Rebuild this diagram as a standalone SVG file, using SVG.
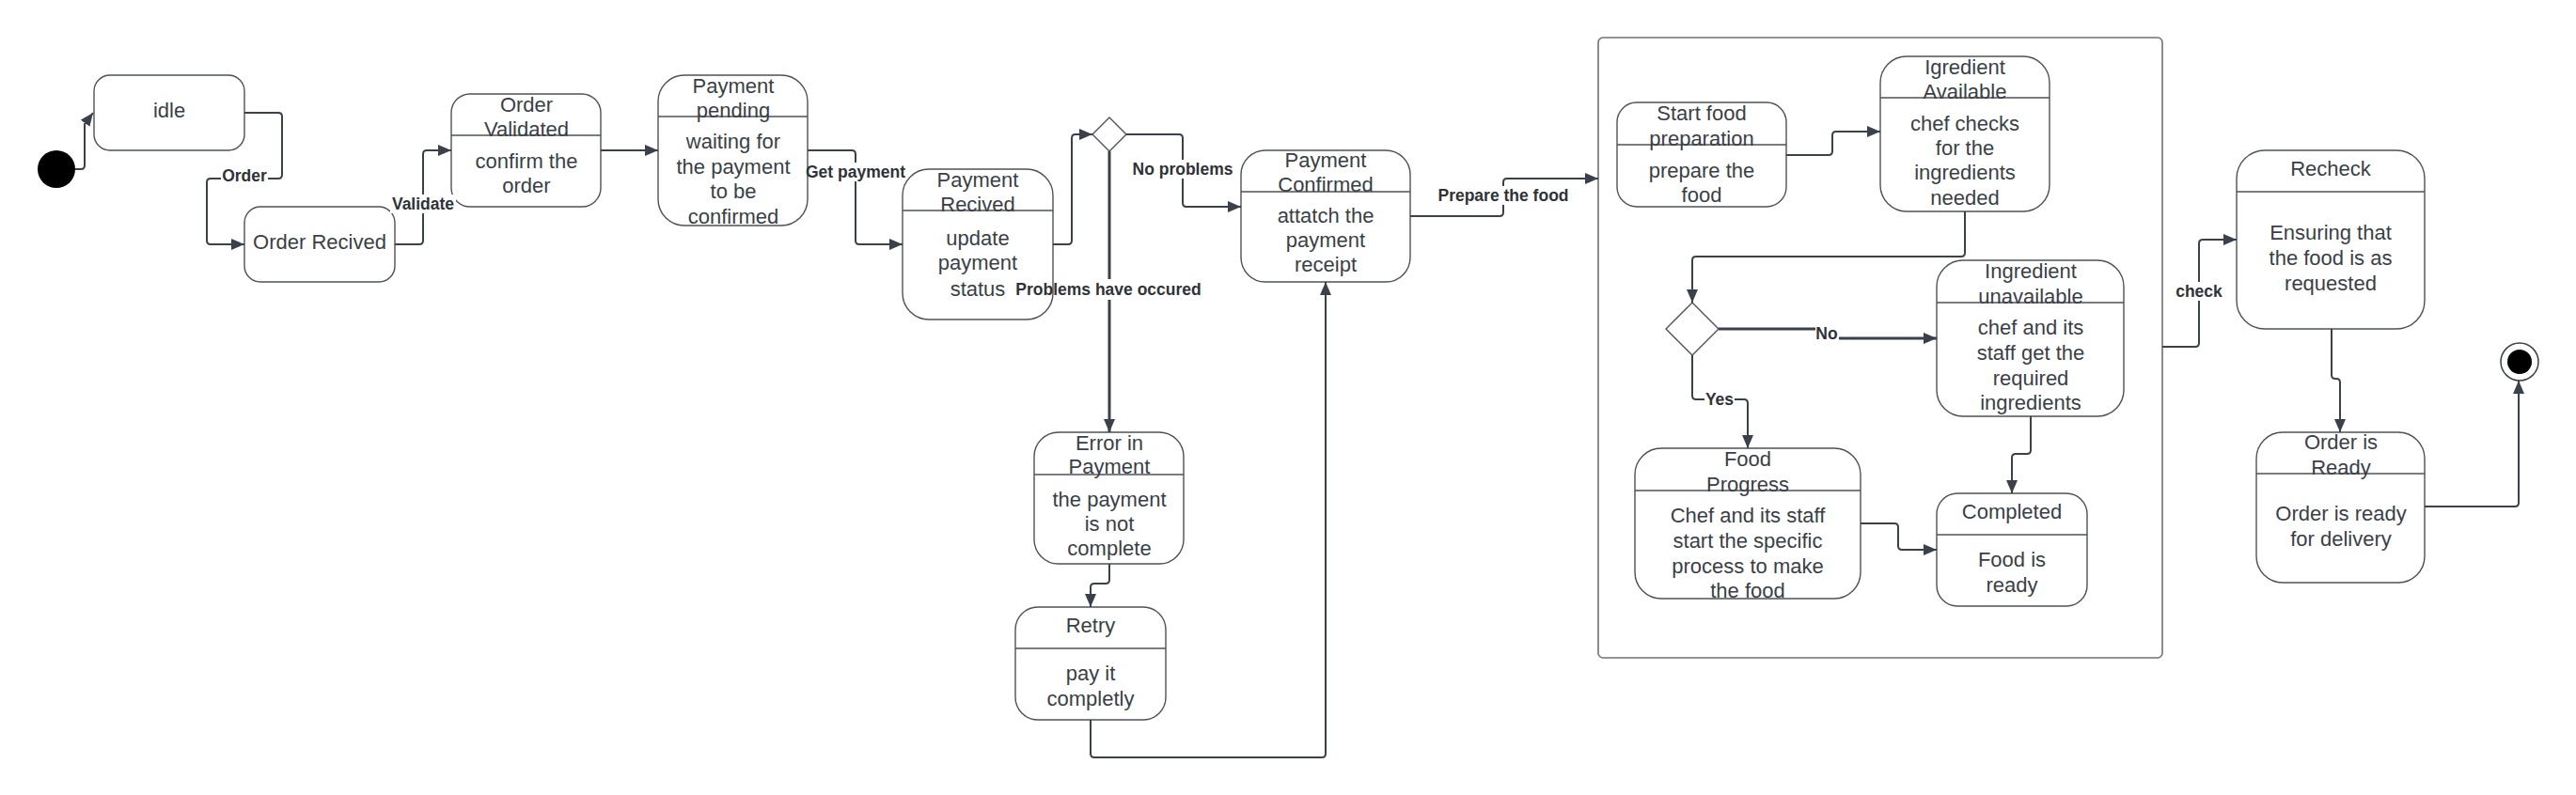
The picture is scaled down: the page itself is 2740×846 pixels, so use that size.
<svg xmlns="http://www.w3.org/2000/svg" width="2740" height="846" viewBox="0 0 2740 846">
<defs>
<marker id="arr" viewBox="0 0 14 12" refX="14" refY="6" markerWidth="14" markerHeight="12" markerUnits="userSpaceOnUse" orient="auto">
<path d="M0,0 L14,6 L0,12 z" fill="#3a414a"/>
</marker>
<style>
.box{fill:#ffffff;stroke:#4d5158;stroke-width:1.4}
.div{stroke:#4d5158;stroke-width:1.4}
.t{font-family:"Liberation Sans",Arial,sans-serif;font-size:22px;fill:#3a3f47;text-anchor:middle}
.c{fill:none;stroke:#3a414a;stroke-width:2;marker-end:url(#arr)}
.cb{fill:none;stroke:#3a414a;stroke-width:3;marker-end:url(#arr)}
.lb{fill:#ffffff}
.l{font-family:"Liberation Sans",Arial,sans-serif;font-size:17.5px;font-weight:bold;fill:#2f3338;text-anchor:middle}
.comp{fill:none;stroke:#6e7177;stroke-width:1.6}
</style>
</defs>
<rect width="2740" height="846" fill="#ffffff"/>

<g id="composite"><rect class="comp" x="1700" y="40" width="600" height="660" rx="5"/></g>

<g id="initial"><circle cx="60" cy="180" r="20" fill="#000"/></g>

<g id="idle"><rect class="box" x="100" y="80" width="160" height="80" rx="17"/>
<text class="t" x="180" y="125">idle</text></g>

<g id="order-recived"><rect class="box" x="260" y="220" width="160" height="80" rx="17"/>
<text class="t" x="340" y="265">Order Recived</text></g>

<g id="order-validated"><rect class="box" x="480" y="100" width="159" height="120" rx="20"/>
<line class="div" x1="480" y1="144" x2="639" y2="144"/>
<text class="t" x="560" y="119">Order</text><text class="t" x="560" y="145">Validated</text>
<text class="t" x="560" y="179">confirm the</text><text class="t" x="560" y="205">order</text></g>

<g id="payment-pending"><rect class="box" x="700" y="80" width="159" height="160" rx="28"/>
<line class="div" x1="700" y1="124" x2="859" y2="124"/>
<text class="t" x="780" y="99">Payment</text><text class="t" x="780" y="125">pending</text>
<text class="t" x="780" y="158">waiting for</text><text class="t" x="780" y="185">the payment</text>
<text class="t" x="780" y="211">to be</text><text class="t" x="780" y="238">confirmed</text></g>

<g id="payment-recived"><rect class="box" x="960" y="180" width="160" height="160" rx="28"/>
<line class="div" x1="960" y1="224" x2="1120" y2="224"/>
<text class="t" x="1040" y="199">Payment</text><text class="t" x="1040" y="225">Recived</text>
<text class="t" x="1040" y="261">update</text><text class="t" x="1040" y="287">payment</text>
<text class="t" x="1040" y="315">status</text></g>

<g id="decision-payment"><path class="box" d="M1180,125 L1198,143 L1180,161 L1162,143 Z" stroke-linejoin="round"/></g>

<g id="payment-confirmed"><rect class="box" x="1320" y="160" width="180" height="140" rx="26"/>
<line class="div" x1="1320" y1="204" x2="1500" y2="204"/>
<text class="t" x="1410" y="178">Payment</text><text class="t" x="1410" y="204">Confirmed</text>
<text class="t" x="1410" y="237">attatch the</text><text class="t" x="1410" y="263">payment</text>
<text class="t" x="1410" y="289">receipt</text></g>

<g id="error-in-payment"><rect class="box" x="1100" y="460" width="159" height="140" rx="26"/>
<line class="div" x1="1100" y1="505" x2="1259" y2="505"/>
<text class="t" x="1180" y="479">Error in</text><text class="t" x="1180" y="504">Payment</text>
<text class="t" x="1180" y="539">the payment</text><text class="t" x="1180" y="565">is not</text>
<text class="t" x="1180" y="591">complete</text></g>

<g id="retry"><rect class="box" x="1080" y="646" width="160" height="120" rx="24"/>
<line class="div" x1="1080" y1="690" x2="1240" y2="690"/>
<text class="t" x="1160" y="673">Retry</text>
<text class="t" x="1160" y="724">pay it</text><text class="t" x="1160" y="751">completly</text></g>

<g id="start-food"><rect class="box" x="1720" y="109" width="180" height="111" rx="21"/>
<line class="div" x1="1720" y1="154" x2="1900" y2="154"/>
<text class="t" x="1810" y="128">Start food</text><text class="t" x="1810" y="155">preparation</text>
<text class="t" x="1810" y="189">prepare the</text><text class="t" x="1810" y="215">food</text></g>

<g id="igredient-available"><rect class="box" x="2000" y="60" width="180" height="165" rx="28"/>
<line class="div" x1="2000" y1="104" x2="2180" y2="104"/>
<text class="t" x="2090" y="79">Igredient</text><text class="t" x="2090" y="105">Available</text>
<text class="t" x="2090" y="139">chef checks</text><text class="t" x="2090" y="165">for the</text>
<text class="t" x="2090" y="191">ingredients</text><text class="t" x="2090" y="218">needed</text></g>

<g id="decision-ingredient"><path class="box" d="M1800,322 L1828,350 L1800,378 L1772,350 Z" stroke-linejoin="round"/></g>

<g id="ingredient-unavailable"><rect class="box" x="2060" y="277" width="199" height="166" rx="28"/>
<line class="div" x1="2060" y1="322" x2="2259" y2="322"/>
<text class="t" x="2160" y="296">Ingredient</text><text class="t" x="2160" y="323">unavailable</text>
<text class="t" x="2160" y="356">chef and its</text><text class="t" x="2160" y="383">staff get the</text>
<text class="t" x="2160" y="410">required</text><text class="t" x="2160" y="436">ingredients</text></g>

<g id="food-progress"><rect class="box" x="1739" y="477" width="240" height="160" rx="28"/>
<line class="div" x1="1739" y1="522" x2="1979" y2="522"/>
<text class="t" x="1859" y="496">Food</text><text class="t" x="1859" y="523">Progress</text>
<text class="t" x="1859" y="556">Chef and its staff</text><text class="t" x="1859" y="583">start the specific</text>
<text class="t" x="1859" y="610">process to make</text><text class="t" x="1859" y="636">the food</text></g>

<g id="completed"><rect class="box" x="2060" y="525" width="160" height="120" rx="22"/>
<line class="div" x1="2060" y1="569" x2="2220" y2="569"/>
<text class="t" x="2140" y="552">Completed</text>
<text class="t" x="2140" y="603">Food is</text><text class="t" x="2140" y="630">ready</text></g>

<g id="recheck"><rect class="box" x="2379" y="160" width="200" height="190" rx="30"/>
<line class="div" x1="2379" y1="204" x2="2579" y2="204"/>
<text class="t" x="2479" y="187">Recheck</text>
<text class="t" x="2479" y="255">Ensuring that</text><text class="t" x="2479" y="282">the food is as</text>
<text class="t" x="2479" y="309">requested</text></g>

<g id="order-is-ready"><rect class="box" x="2400" y="460" width="179" height="160" rx="28"/>
<line class="div" x1="2400" y1="504" x2="2579" y2="504"/>
<text class="t" x="2490" y="478">Order is</text><text class="t" x="2490" y="505">Ready</text>
<text class="t" x="2490" y="554">Order is ready</text><text class="t" x="2490" y="581">for delivery</text></g>

<g id="final"><circle cx="2680" cy="385" r="20" fill="#fff" stroke="#3a414a" stroke-width="1.5"/><circle cx="2680" cy="385" r="13" fill="#000"/></g>

<g id="connectors">
<path class="c" d="M80,180 H86 Q90,180 90,176 V132 L99,120"/>
<path class="c" d="M260,120 H296 Q300,120 300,124 V186 Q300,190 296,190 H224 Q220,190 220,194 V256 Q220,260 224,260 H260"/>
<path class="c" d="M420,260 H446 Q450,260 450,256 V164 Q450,160 454,160 H480"/>
<path class="c" d="M639,160 H700"/>
<path class="c" d="M859,160 H906 Q910,160 910,164 V256 Q910,260 914,260 H960"/>
<path class="c" d="M1120,260 H1136 Q1140,260 1140,256 V147 Q1140,143 1144,143 H1162"/>
<path class="c" d="M1198,143 H1254 Q1258,143 1258,147 V216 Q1258,220 1262,220 H1320"/>
<path class="cb" d="M1180,161 V460"/>
<path class="c" d="M1180,600 V617 Q1180,621 1176,621 H1164 Q1160,621 1160,625 V646"/>
<path class="c" d="M1160,766 V802 Q1160,806 1164,806 H1406 Q1410,806 1410,802 V300"/>
<path class="c" d="M1500,230 H1595 Q1599,230 1599,226 V194 Q1599,190 1603,190 H1700"/>
<path class="c" d="M1900,165 H1945 Q1949,165 1949,161 V144 Q1949,140 1953,140 H2000"/>
<path class="c" d="M2090,225 V269 Q2090,273 2086,273 H1804 Q1800,273 1800,277 V322"/>
<path class="cb" d="M1828,350 H1943 V360 H2060"/>
<path class="c" d="M1800,378 V421 Q1800,425 1804,425 H1855 Q1859,425 1859,429 V477"/>
<path class="c" d="M1979,557 H2015 Q2019,557 2019,561 V581 Q2019,585 2023,585 H2060"/>
<path class="c" d="M2160,443 V479 Q2160,483 2156,483 H2144 Q2140,483 2140,487 V525"/>
<path class="c" d="M2300,369 H2335 Q2339,369 2339,365 V259 Q2339,255 2343,255 H2379"/>
<path class="c" d="M2480,350 V399 Q2480,403 2484,403 H2485 Q2489,403 2489,407 V460"/>
<path class="c" d="M2579,539 H2675 Q2679,539 2679,535 V405"/>

<rect class="lb" x="235" y="177" width="50" height="20"/><text class="l" x="260" y="193">Order</text>
<rect class="lb" x="415" y="207" width="70" height="20"/><text class="l" x="450" y="223">Validate</text>
<rect class="lb" x="860" y="173" width="100" height="20"/><text class="l" x="910" y="189">Get payment</text>
<rect class="lb" x="1204" y="170" width="108" height="20"/><text class="l" x="1258" y="186">No problems</text>
<rect class="lb" x="1174" y="297" width="12" height="22"/><text class="l" x="1179" y="314">Problems have occured</text>
<rect class="lb" x="1528" y="198" width="142" height="20"/><text class="l" x="1599" y="214">Prepare the food</text>
<rect class="lb" x="1931" y="343" width="25" height="24"/><text class="l" x="1943" y="361">No</text>
<rect class="lb" x="1813" y="415" width="32" height="20"/><text class="l" x="1829" y="431">Yes</text>
<rect class="lb" x="2313" y="300" width="52" height="20"/><text class="l" x="2339" y="316">check</text>
</g>
</svg>
